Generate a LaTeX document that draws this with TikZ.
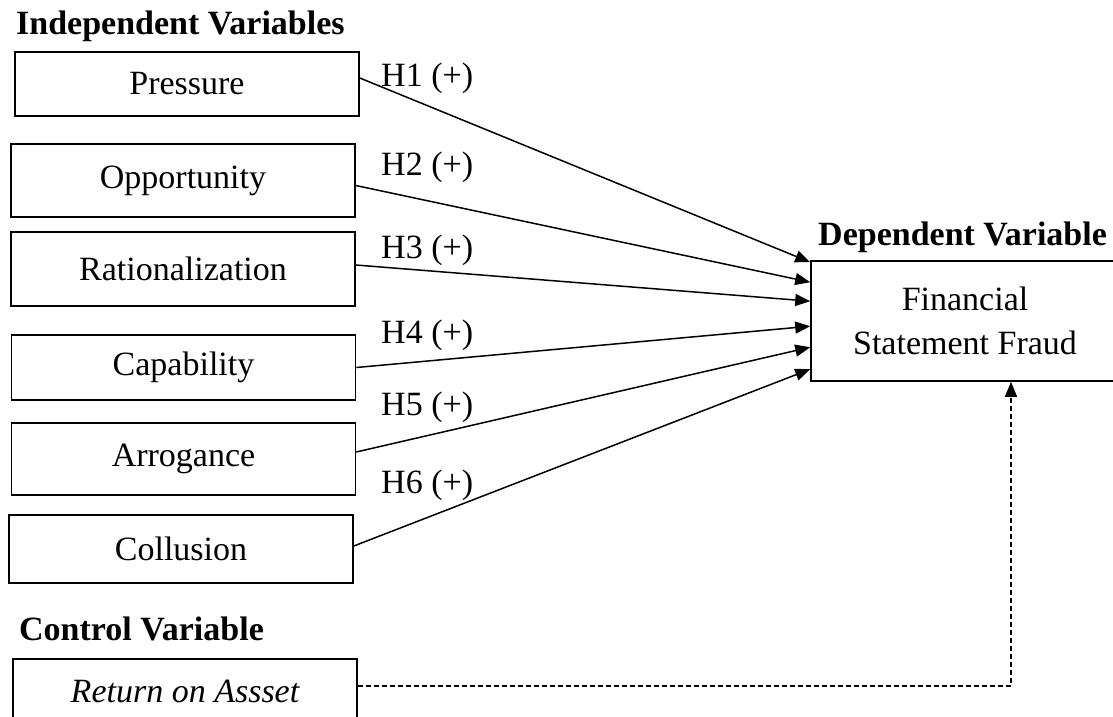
\documentclass[tikz,border=0pt]{standalone}
\usepackage{fontspec}
\setmainfont{Liberation Serif}
\usepackage{tikz}
\usetikzlibrary{arrows.meta, positioning}
\newcommand{\TailleTexte}{\fontsize{34}{44}\selectfont}
\tikzset{
  %% boxes
  bloc/.style         = {draw=black, line width=1.6pt, inner sep=0pt,
                         align=center, minimum width=344pt},
  %% arrows
  fleche/.style       = {-{Triangle[length=15pt, width=12pt]}, draw=black,
                         line width=1.5pt},
  flecheCoupee/.style = {fleche, dash pattern=on 5pt off 3pt},
  %% text
  etiquette/.style    = {anchor=base west, inner sep=0pt},
  titreBande/.style   = {anchor=base west, inner sep=0pt,
                         font=\TailleTexte\bfseries},
}

\begin{document}
\begin{tikzpicture}[x=1pt, y=-1pt, font=\TailleTexte]
\useasboundingbox (0,0) rectangle (1113,717);

\node[titreBande] (titreInd) at (16, 35)  {Independent Variables};
\node[titreBande] (titreDep) at (818, 245) {Dependent Variable};
\node[titreBande] (titreCtl) at (19, 640) {Control Variable};

\node[bloc, minimum height=64pt] (pres)  at (187, 84)    {Pressure};
\node[bloc, minimum height=73pt] (oppo)  at (183, 180.5) {Opportunity};
\node[bloc, minimum height=74pt] (rati)  at (183, 269)   {Rationalization};
\node[bloc, minimum height=65pt] (capa)  at (183.5, 367.5) {Capability};
\node[bloc, minimum height=72pt] (arro)  at (183.5, 459) {Arrogance};
\node[bloc, minimum height=68pt] (collu) at (181, 549)   {Collusion};
\node[bloc, minimum height=64pt] (roa)   at (185, 691)   {\itshape Return on Assset};

\node[bloc, minimum width=308pt, minimum height=120pt] (fraude) at (965, 321)
     {Financial\\Statement Fraud};

\draw[fleche] ([yshift=6pt]pres.east)  -- ([yshift=-2pt]fraude.north west);
\draw[fleche] ([yshift=-5pt]oppo.east) -- ([yshift=-22pt]fraude.north west);
\draw[fleche] ([yshift=4pt]rati.east)  -- ([yshift=-41pt]fraude.north west);
\draw[fleche] (capa.east)              -- ([yshift=-66pt]fraude.north west);
\draw[fleche] ([yshift=7pt]arro.east)  -- ([yshift=-87pt]fraude.north west);
\draw[fleche] ([yshift=3pt]collu.east) -- ([yshift=-109pt]fraude.north west);

\node[etiquette] (h1) at (381, 86)  {H1 (+)};
\node[etiquette] (h2) at (381, 175) {H2 (+)};
\node[etiquette] (h3) at (381, 258) {H3 (+)};
\node[etiquette] (h4) at (381, 343) {H4 (+)};
\node[etiquette] (h5) at (381, 415) {H5 (+)};
\node[etiquette] (h6) at (381, 493) {H6 (+)};

\coordinate (coude) at (1011, 686);
\draw[flecheCoupee] ([yshift=5pt]roa.east) -- (coude) -- (coude |- fraude.south);

\end{tikzpicture}
\end{document}
